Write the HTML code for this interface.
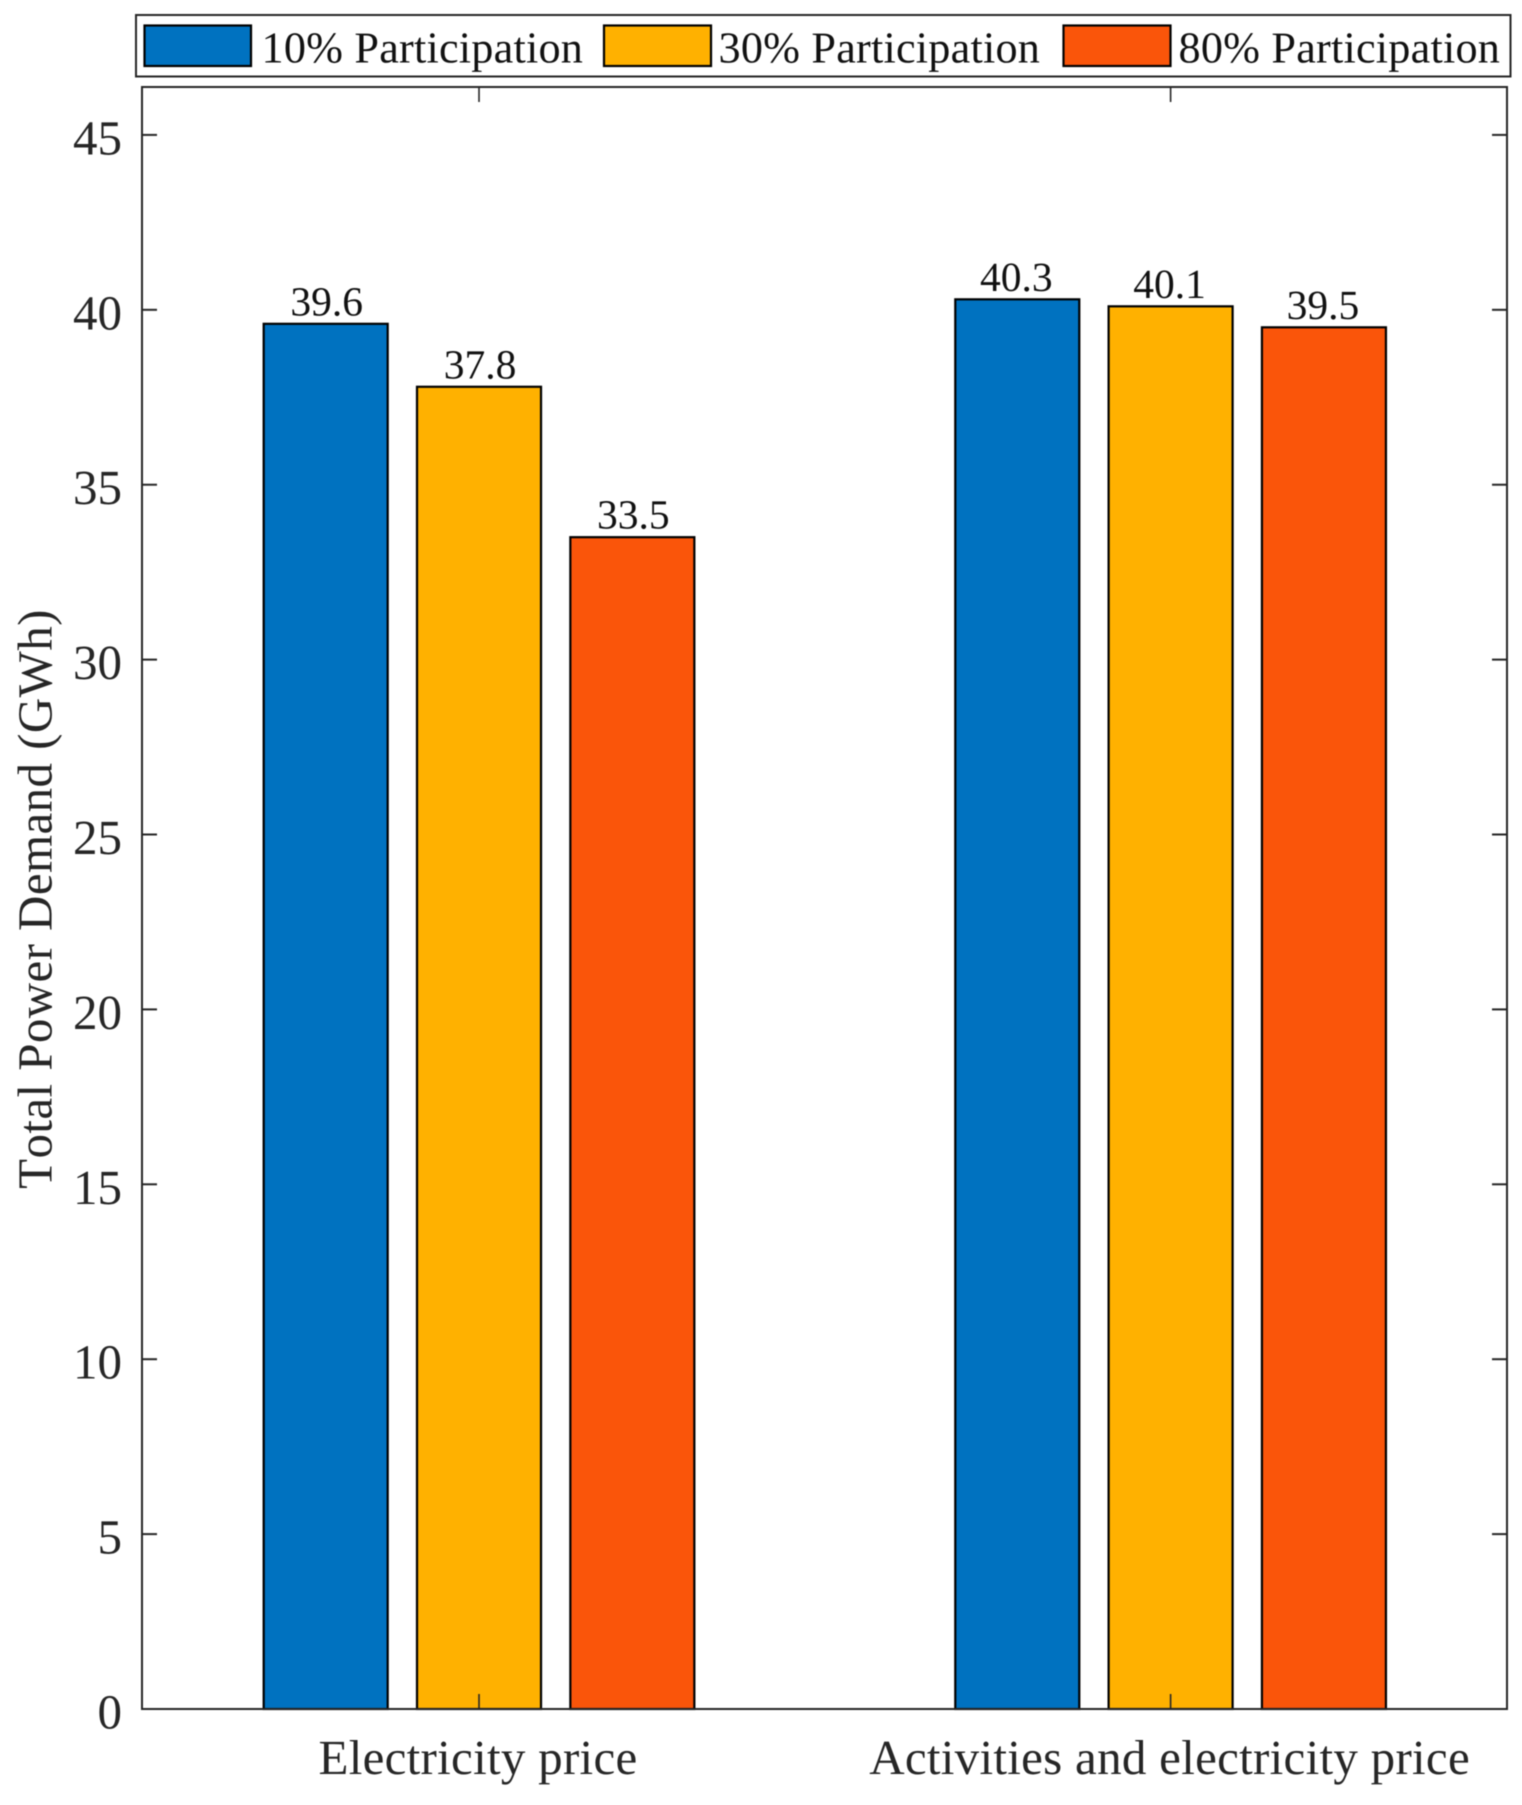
<!DOCTYPE html>
<html lang="en">
<head>
<meta charset="utf-8">
<title>Total Power Demand by Participation</title>
<style>
  html, body { margin: 0; padding: 0; background: #fff; }
  svg { display: block; filter: blur(0.6px); }
  text { font-family: "Liberation Serif", serif; font-kerning: none; text-rendering: geometricPrecision; }
</style>
</head>
<body>
<svg id="chart" xmlns="http://www.w3.org/2000/svg" width="1522" height="1805" viewBox="0 0 1522 1805">
  <rect x="0" y="0" width="1522" height="1805" fill="#ffffff"/>
  <g id="bars"></g>
  <g id="labels"></g>
  <g id="axes"></g>
  <text transform="translate(51.5 899) rotate(-90)" text-anchor="middle" font-size="49" letter-spacing="0.4" fill="#262626">Total Power Demand (GWh)</text>
  <g>
    <rect x="136" y="15" width="1374.5" height="61.5" fill="#ffffff" stroke="#262626" stroke-width="2"/>
    <g>
      <rect x="144.5" y="25.5" width="106.5" height="40.5" fill="#0072c0" stroke="#000" stroke-width="2.2"/>
      <text x="261.5" y="62.5" font-size="44.2" letter-spacing="0.22" fill="#111">10% Participation</text>
    </g>
    <g>
      <rect x="604" y="25.5" width="107" height="40.5" fill="#ffb100" stroke="#000" stroke-width="2.2"/>
      <text x="718.5" y="62.5" font-size="44.2" letter-spacing="0.22" fill="#111">30% Participation</text>
    </g>
    <g>
      <rect x="1063.5" y="25.5" width="107" height="40.5" fill="#fa550a" stroke="#000" stroke-width="2.2"/>
      <text x="1178.5" y="62.5" font-size="44.2" letter-spacing="0.22" fill="#111">80% Participation</text>
    </g>
  </g>
</svg>
<script>
const categories = ["Electricity price", "Activities and electricity price"];
const seriesNames = ["10", "30", "80"];
const series10 = [39.6, 40.3];
const series30 = [37.8, 40.1];
const series80 = [33.5, 39.5];
const yTickLabels = [0, 5, 10, 15, 20, 25, 30, 35, 40, 45];

const allSeries = [series10, series30, series80];
const seriesColors = ["#0072c0", "#ffb100", "#fa550a"];
const NS = "http://www.w3.org/2000/svg";
const plot = { left: 142, right: 1507, top: 87, bottom: 1709 };
const yMax = 46.37;
const xMin = 0.5127, xMax = 2.4864;
const barWidth = 0.1793, barOffset = 0.2217;

function xScale(v) {
  return plot.left + (v - xMin) / (xMax - xMin) * (plot.right - plot.left);
}
function yScale(v) {
  return plot.bottom - v / yMax * (plot.bottom - plot.top);
}
function svgEl(tag, attrs, parent) {
  const el = document.createElementNS(NS, tag);
  for (const k in attrs) el.setAttribute(k, attrs[k]);
  parent.appendChild(el);
  return el;
}

const barsG = document.getElementById("bars");
const labelsG = document.getElementById("labels");
const axesG = document.getElementById("axes");

allSeries.forEach(function (values, s) {
  values.forEach(function (v, c) {
    const center = (c + 1) + (s - 1) * barOffset;
    const x0 = xScale(center - barWidth / 2);
    const x1 = xScale(center + barWidth / 2);
    const bar = svgEl("rect", {
      x: x0, y: yScale(v), width: x1 - x0, height: yScale(0) - yScale(v),
      fill: seriesColors[s], stroke: "#000", "stroke-width": 2.2
    }, barsG);
    
    

    const label = svgEl("text", {
      x: xScale(center) + (c === 0 ? 1 : -1), y: yScale(v) - 8.5, "text-anchor": "middle",
      "font-size": 41.5, fill: "#111"
    }, labelsG);
    label.textContent = v.toFixed(1);
    
    
  });
});

const frame = svgEl("rect", {
  x: plot.left, y: plot.top, width: plot.right - plot.left, height: plot.bottom - plot.top,
  fill: "none", stroke: "#262626", "stroke-width": 2
}, axesG);



yTickLabels.forEach(function (t) {
  const y = yScale(t);
  const left = svgEl("line", { x1: plot.left, x2: plot.left + 15, y1: y, y2: y, stroke: "#262626", "stroke-width": 2 }, axesG);
  
  
  const right = svgEl("line", { x1: plot.right - 15, x2: plot.right, y1: y, y2: y, stroke: "#262626", "stroke-width": 2 }, axesG);
  
  
  const lab = svgEl("text", { x: 122, y: y + 19.5, "text-anchor": "end", "font-size": 49, fill: "#262626" }, axesG);
  lab.textContent = t;
  
  
});

categories.forEach(function (name, c) {
  const x = xScale(c + 1);
  const bottom = svgEl("line", { x1: x, x2: x, y1: plot.bottom, y2: plot.bottom - 15, stroke: "#262626", "stroke-width": 1.6 }, axesG);
  
  
  const top = svgEl("line", { x1: x, x2: x, y1: plot.top, y2: plot.top + 15, stroke: "#262626", "stroke-width": 1.6 }, axesG);
  
  
  const lab = svgEl("text", { x: x - 1, y: 1774, "text-anchor": "middle", "font-size": 49, "letter-spacing": 0.28, fill: "#262626" }, axesG);
  lab.textContent = name;
  
  
});
</script>
</body>
</html>
